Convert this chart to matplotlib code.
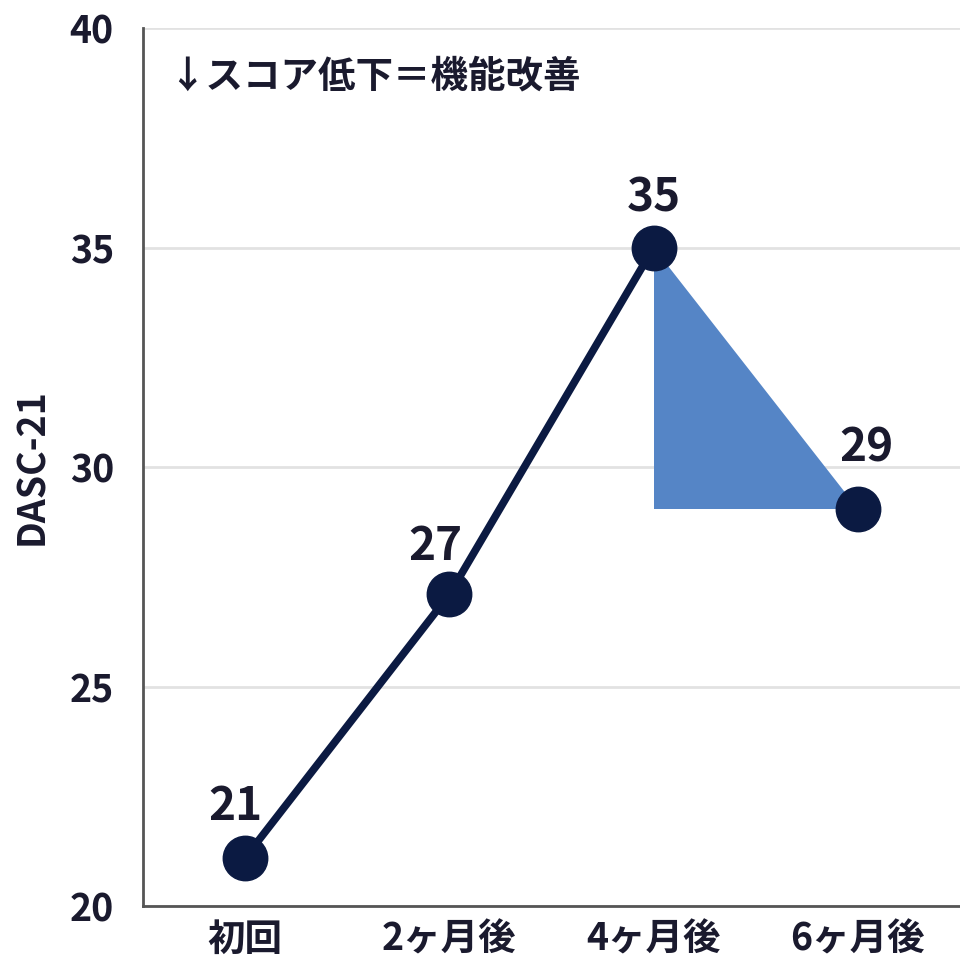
import matplotlib.pyplot as plt
from matplotlib.patches import Polygon

plt.rcParams['font.family'] = ['Noto Sans CJK JP', 'DejaVu Sans']

# data
periods = ['初回', '2ヶ月後', '4ヶ月後', '6ヶ月後']
scores = [21.1, 27.1, 35.0, 29.05]
score_labels = ['21', '27', '35', '29']
# label nudges (points) relative to each marker
label_dx = [-7, -10, 0, 6]
label_dy = [27, 25, 26, 34]

navy = '#0b1a42'
fill_blue = '#5585c6'
text_col = '#1a1a2e'

fig = plt.figure(figsize=(9.6, 9.69), dpi=100)
ax = fig.add_axes([0.149, 0.065, 0.851, 0.906])

x = list(range(len(periods)))

# triangle showing the drop from 4 to 6 months
tri = Polygon([(x[2], scores[2]), (x[2], scores[3]), (x[3], scores[3])],
              closed=True, facecolor=fill_blue, edgecolor='none', zorder=2)
ax.add_patch(tri)

# the line only joins the first three visits
ax.plot(x[:3], scores[:3], color=navy, linewidth=5.5, zorder=3)
ax.plot(x, scores, linestyle='none', marker='o', markersize=32,
        markerfacecolor=navy, markeredgecolor=navy, zorder=4)

for xi, yi, lab, dx, dy in zip(x, scores, score_labels, label_dx, label_dy):
    ax.annotate(lab, (xi, yi), xytext=(dx, dy), textcoords='offset points',
                ha='center', va='baseline', fontsize=33, fontweight='bold',
                color=text_col, zorder=5)

ax.text(0.031, 0.946, '↓スコア低下＝機能改善', transform=ax.transAxes,
        ha='left', va='center', fontsize=27, fontweight='bold', color=text_col)

ax.set_xlim(-0.5, 3.5)
ax.set_ylim(20, 40)
ax.set_yticks([20, 25, 30, 35, 40])
ax.set_xticks(x)
ax.set_xticklabels(periods)
ax.tick_params(axis='both', length=0, labelsize=27, labelcolor=text_col)
ax.tick_params(axis='x', pad=10)
ax.tick_params(axis='y', pad=21)
for lab in ax.get_xticklabels() + ax.get_yticklabels():
    lab.set_fontweight('bold')

ax.set_ylabel('DASC-21', fontsize=27, fontweight='bold', color=text_col)
ax.yaxis.set_label_coords(-0.112, 0.5)

ax.grid(axis='y', color='#e2e2e2', linewidth=2)
ax.set_axisbelow(True)
for side in ['top', 'right']:
    ax.spines[side].set_visible(False)
for side in ['left', 'bottom']:
    ax.spines[side].set_color('#555555')
    ax.spines[side].set_linewidth(2)

fig.savefig('out.png', dpi=100, facecolor='white')
